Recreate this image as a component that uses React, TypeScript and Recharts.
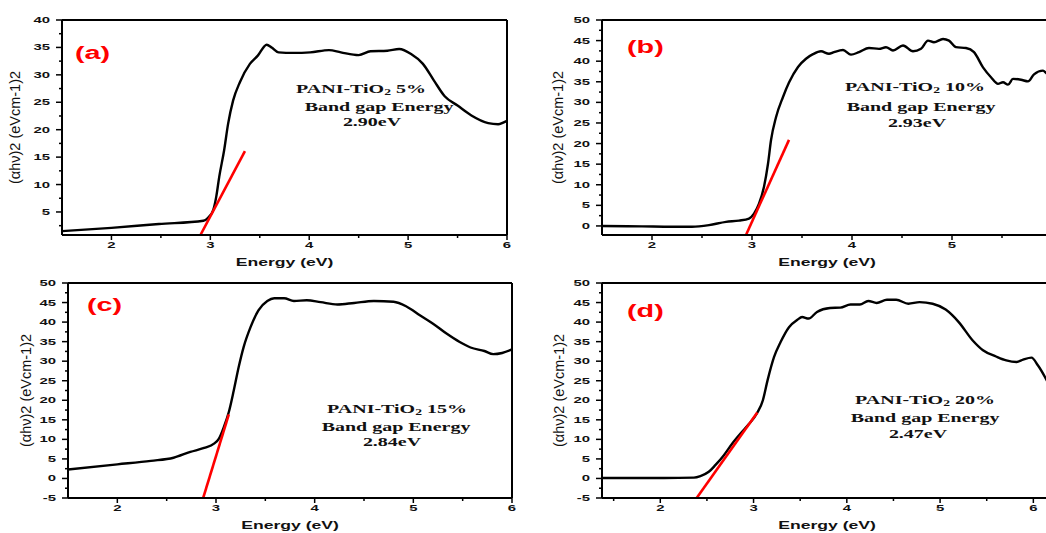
import React from "react";
import { LineChart, Line, XAxis, YAxis, ReferenceLine, Label } from "recharts";

// Tauc plots for the four PANI-TiO2 loadings
const energyA = [1.5, 2.0, 2.48, 2.93, 2.98, 3.03, 3.06, 3.09, 3.14, 3.18, 3.23, 3.3, 3.4, 3.48, 3.57, 3.62, 3.69, 3.84, 4.01, 4.2, 4.32, 4.5, 4.62, 4.79, 4.91, 5.03, 5.15, 5.26, 5.37, 5.5, 5.64, 5.81, 5.91, 6.0];
const taucA = [1.5, 2.1, 2.8, 3.4, 4.0, 5.4, 7.8, 11.4, 16.3, 21.1, 25.3, 28.7, 32.0, 33.5, 35.5, 35.0, 34.1, 34.0, 34.1, 34.5, 34.1, 33.6, 34.3, 34.4, 34.7, 33.8, 32.0, 29.0, 26.1, 24.4, 22.6, 21.2, 21.0, 21.6];

const energyB = [1.5, 1.9, 2.2, 2.4, 2.57, 2.74, 2.87, 2.97, 3.02, 3.07, 3.12, 3.16, 3.19, 3.24, 3.31, 3.37, 3.46, 3.54, 3.61, 3.69, 3.77, 3.82, 3.91, 3.99, 4.07, 4.17, 4.27, 4.34, 4.41, 4.51, 4.61, 4.69, 4.76, 4.82, 4.91, 4.97, 5.04, 5.14, 5.22, 5.31, 5.39, 5.46, 5.51, 5.56, 5.61, 5.69, 5.76, 5.82, 5.91, 5.95, 6.0];
const taucB = [0.0, -0.1, -0.2, -0.2, 0.2, 1.0, 1.3, 1.8, 3.0, 5.4, 9.5, 15.1, 20.8, 26.4, 31.3, 34.8, 38.6, 40.6, 41.7, 42.4, 41.8, 42.2, 42.7, 41.6, 42.2, 43.2, 43.0, 43.4, 42.6, 43.8, 42.4, 43.0, 45.0, 44.6, 45.4, 45.0, 43.4, 43.2, 42.2, 38.5, 36.1, 34.5, 34.9, 34.3, 35.7, 35.5, 35.1, 36.8, 37.7, 37.0, 36.8];

const energyC = [1.5, 2.0, 2.34, 2.57, 2.74, 2.88, 2.98, 3.03, 3.08, 3.13, 3.18, 3.23, 3.28, 3.35, 3.43, 3.52, 3.59, 3.69, 3.79, 3.92, 4.06, 4.23, 4.4, 4.6, 4.8, 4.93, 5.07, 5.2, 5.34, 5.47, 5.58, 5.72, 5.81, 5.9, 6.0];
const taucC = [2.3, 3.6, 4.5, 5.3, 6.8, 7.8, 8.9, 10.2, 13.2, 17.0, 22.5, 28.5, 33.6, 38.7, 43.0, 45.4, 46.1, 46.1, 45.4, 45.6, 45.1, 44.5, 44.9, 45.4, 45.2, 44.0, 41.7, 39.6, 37.0, 34.9, 33.5, 32.6, 31.8, 32.1, 33.0];

const energyD = [1.375, 2.04, 2.36, 2.43, 2.52, 2.59, 2.68, 2.77, 2.86, 2.95, 3.04, 3.1, 3.15, 3.22, 3.29, 3.38, 3.47, 3.52, 3.59, 3.68, 3.82, 3.93, 4.04, 4.14, 4.23, 4.32, 4.43, 4.53, 4.66, 4.78, 4.92, 5.06, 5.2, 5.35, 5.46, 5.6, 5.71, 5.82, 5.89, 5.98, 6.05, 6.2];
const taucD = [0.1, 0.1, 0.2, 0.6, 1.7, 3.4, 5.9, 8.9, 11.5, 13.9, 16.8, 20.0, 25.1, 31.1, 34.9, 38.7, 40.6, 41.3, 40.9, 42.6, 43.6, 43.7, 44.5, 44.5, 45.4, 44.9, 45.7, 45.7, 44.7, 45.1, 44.7, 43.2, 40.0, 35.3, 32.8, 31.2, 30.2, 29.8, 30.4, 30.9, 28.9, 22.5];

// linear fits extrapolated to the energy axis
const fitEnergyA = [2.9, 3.35];
const fitTaucA = [0.8, 16.1];
const fitEnergyB = [2.94, 3.37];
const fitTaucB = [-2.2, 20.9];
const fitEnergyC = [2.87, 3.13];
const fitTaucC = [-5, 16.4];
const fitEnergyD = [2.39, 3.04];
const fitTaucD = [-5, 16.9];

const xTicks = [2, 2.5, 3, 3.5, 4, 4.5, 5, 5.5, 6];
const xTicksB = [2, 2.5, 3, 3.5, 4, 4.5, 5, 5.5];
const xTicksD = [1.5, 2, 2.5, 3, 3.5, 4, 4.5, 5, 5.5, 6];
const yTicksA = [2.5, 5, 7.5, 10, 12.5, 15, 17.5, 20, 22.5, 25, 27.5, 30, 32.5, 35, 37.5, 40];
const yTicksB = [0, 2.5, 5, 7.5, 10, 12.5, 15, 17.5, 20, 22.5, 25, 27.5, 30, 32.5, 35, 37.5, 40, 42.5, 45, 47.5, 50];
const yTicksCD = [-5, -2.5, ...yTicksB];

const SANS = "'Liberation Sans', Arial, sans-serif";
const SERIF = "'Liberation Serif', 'Times New Roman', serif";
const STRETCH = 1.6;

const zip = (xs: number[], ys: number[]) => xs.map((e, i) => ({ e, v: ys[i] }));

function WideText({ x, y, anchor = "middle", size, weight = 700, fill = "#111", family = SANS, rotate, stretch = STRETCH, children }: any) {
  const t = `translate(${x},${y}) scale(${stretch},1)${rotate ? ` rotate(${rotate})` : ""}`;
  return (
    <text transform={t} textAnchor={anchor} dominantBaseline="central" fontSize={size} fontWeight={weight} fill={fill} fontFamily={family}>
      {children}
    </text>
  );
}

function XTick({ x, y, payload }: any) {
  const major = Number.isInteger(payload.value);
  return (
    <g>
      <line x1={x} x2={x} y1={y} y2={y + (major ? 5 : 3)} stroke="#000" strokeWidth={1.5} />
      {major && (
        <WideText x={x} y={y + 10} size={9.3}>
          {payload.value}
        </WideText>
      )}
    </g>
  );
}

function YTick({ x, y, payload }: any) {
  const major = payload.value % 5 === 0;
  return (
    <g>
      <line x1={x} x2={x - (major ? 6 : 3)} y1={y} y2={y} stroke="#000" strokeWidth={1.5} />
      {major && (
        <WideText x={x - 12} y={y} size={9.3} anchor="end">
          {payload.value}
        </WideText>
      )}
    </g>
  );
}

type PanelProps = {
  left: number;
  top: number;
  height: number;
  plotWidth: number;
  marginTop: number;
  yAxisWidth: number;
  yLabelX: number;
  xDomain: [number, number];
  yDomain: [number, number];
  xt: number[];
  yt: number[];
  curve: { e: number; v: number }[];
  fit: { e: number; v: number }[];
};

function Panel(p: PanelProps) {
  const width = p.yAxisWidth + p.plotWidth + 10;
  return (
    <div style={{ position: "absolute", left: p.left, top: p.top }}>
      <LineChart width={width} height={p.height} margin={{ top: p.marginTop, right: 10, bottom: 0, left: 0 }}>
        <XAxis
          dataKey="e"
          type="number"
          domain={p.xDomain}
          ticks={p.xt}
          interval={0}
          allowDataOverflow
          height={35}
          tickSize={0}
          tickMargin={0}
          tickLine={false}
          tick={(t: any) => <XTick {...t} />}
          axisLine={{ stroke: "#000", strokeWidth: 2 }}
        >
          <Label
            content={({ viewBox }: any) => (
              <WideText x={viewBox.x + viewBox.width / 2} y={viewBox.y + 27} size={11}>
                Energy (eV)
              </WideText>
            )}
          />
        </XAxis>
        <YAxis
          type="number"
          domain={p.yDomain}
          ticks={p.yt}
          interval={0}
          allowDataOverflow
          width={p.yAxisWidth}
          tickSize={0}
          tickMargin={0}
          tickLine={false}
          tick={(t: any) => <YTick {...t} />}
          axisLine={{ stroke: "#000", strokeWidth: 2 }}
        >
          <Label
            content={({ viewBox }: any) => (
              <WideText x={viewBox.x + p.yLabelX} y={viewBox.y + viewBox.height / 2} size={14.5} weight={400} stretch={1} rotate={-90}>
                (αhν)2 (eVcm-1)2
              </WideText>
            )}
          />
        </YAxis>
        <ReferenceLine y={p.yDomain[1]} stroke="#000" strokeWidth={2} />
        <ReferenceLine x={p.xDomain[1]} stroke="#000" strokeWidth={2} />
        <Line data={p.curve} dataKey="v" type="monotone" stroke="#000" strokeWidth={2.4} dot={false} isAnimationActive={false} />
        <Line data={p.fit} dataKey="v" type="linear" stroke="#f00" strokeWidth={2.6} dot={false} isAnimationActive={false} />
      </LineChart>
    </div>
  );
}

function Caption({ x, y, loading, gap }: { x: number[]; y: number[]; loading: string; gap: string }) {
  return (
    <g>
      <WideText x={x[0]} y={y[0]} size={12.5} family={SERIF}>
        PANI-TiO
        <tspan fontSize={8.5} dy={3}>2</tspan>
        <tspan dy={-3}> {loading}</tspan>
      </WideText>
      <WideText x={x[1]} y={y[1]} size={12.5} family={SERIF}>
        Band gap Energy
      </WideText>
      <WideText x={x[2]} y={y[2]} size={12.5} family={SERIF}>
        {gap}
      </WideText>
    </g>
  );
}

export default function App() {
  return (
    <div style={{ position: "fixed", left: 0, top: 0, width: 1046, height: 533, overflow: "hidden", background: "#fff" }}>
      <Panel left={0} top={0} height={270} plotWidth={445} marginTop={20} yAxisWidth={62} yLabelX={15}
        xDomain={[1.5, 6]} yDomain={[0.8, 40]} xt={xTicks} yt={yTicksA}
        curve={zip(energyA, taucA)} fit={zip(fitEnergyA, fitTaucA)} />
      <Panel left={530} top={0} height={270} plotWidth={450} marginTop={20} yAxisWidth={72} yLabelX={28}
        xDomain={[1.5, 6]} yDomain={[-2.2, 50]} xt={xTicksB} yt={yTicksB}
        curve={zip(energyB, taucB)} fit={zip(fitEnergyB, fitTaucB)} />
      <Panel left={0} top={270} height={263} plotWidth={444} marginTop={13} yAxisWidth={68} yLabelX={26}
        xDomain={[1.5, 6]} yDomain={[-5, 50]} xt={xTicks} yt={yTicksCD}
        curve={zip(energyC, taucC)} fit={zip(fitEnergyC, fitTaucC)} />
      <Panel left={530} top={270} height={263} plotWidth={450} marginTop={13} yAxisWidth={72} yLabelX={29}
        xDomain={[1.375, 6.2]} yDomain={[-5, 50]} xt={xTicksD} yt={yTicksCD}
        curve={zip(energyD, taucD)} fit={zip(fitEnergyD, fitTaucD)} />

      <svg width={1046} height={533} style={{ position: "absolute", left: 0, top: 0, pointerEvents: "none" }}>
        <WideText x={75} y={53} size={18} fill="#f00" anchor="start">(a)</WideText>
        <WideText x={627} y={47} size={18} fill="#f00" anchor="start">(b)</WideText>
        <WideText x={87} y={305} size={18} fill="#f00" anchor="start">(c)</WideText>
        <WideText x={627} y={311} size={18} fill="#f00" anchor="start">(d)</WideText>
        <Caption x={[361, 379, 372]} y={[89, 107, 122]} loading="5%" gap="2.90eV" />
        <Caption x={[915, 921, 917]} y={[87, 107, 123]} loading="10%" gap="2.93eV" />
        <Caption x={[397, 396, 392]} y={[409, 427, 442]} loading="15%" gap="2.84eV" />
        <Caption x={[925, 925, 918]} y={[400, 418, 434]} loading="20%" gap="2.47eV" />
      </svg>
    </div>
  );
}
